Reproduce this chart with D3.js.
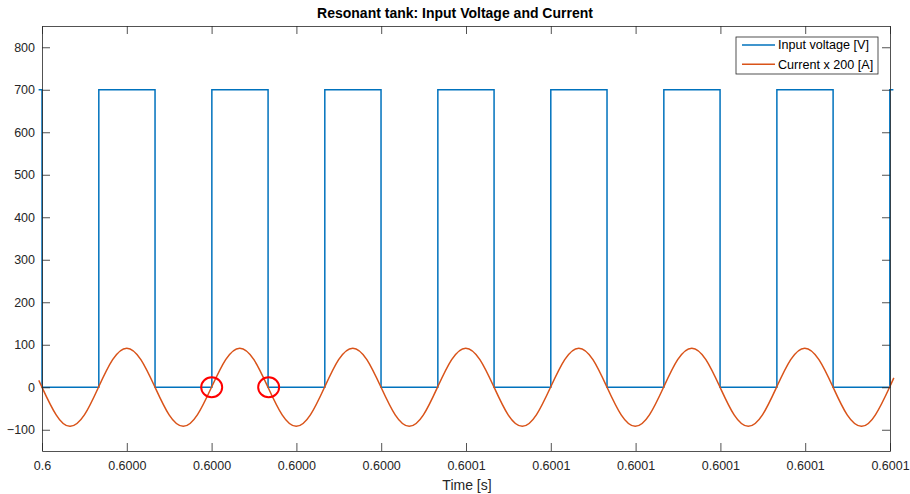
<!DOCTYPE html>
<html>
<head>
<meta charset="utf-8">
<script src="https://cdn.jsdelivr.net/npm/d3@7"></script>
<style>
  html, body { margin: 0; padding: 0; background: #ffffff; }
  svg { display: block; font-family: "Liberation Sans", Arial, Helvetica, sans-serif; }
</style>
</head>
<body>
<svg id="chart" width="910" height="494"></svg>
<script>
// ---- Data (time in microseconds after 0.6 s) ----
const xTicks = [0, 10, 20, 30, 40, 50, 60, 70, 80, 90, 100];
const xTickLabels = ["0.6", "0.6000", "0.6000", "0.6000", "0.6000", "0.6001", "0.6001", "0.6001", "0.6001", "0.6001", "0.6001"];
const yTicks = [-100, 0, 100, 200, 300, 400, 500, 600, 700, 800];

// Input voltage [V]: step levels at switching instants
const voltTime = [-0.40, 0.00, 6.70, 13.33, 20.03, 26.66, 33.35, 39.98, 46.68, 53.31, 60.00, 66.63, 73.33, 79.96, 86.66, 93.29, 99.98, 100.40];
const voltLevel = [700, 0, 700, 0, 700, 0, 700, 0, 700, 0, 700, 0, 700, 0, 700, 0, 700, 700];

// Current x 200 [A]: values read at regular points along the waveform
const curTime = [-0.35, 0.00, 1.67, 3.33, 5.00, 6.66, 8.33, 10.00, 11.66, 13.33, 14.99, 16.66, 18.32, 19.99, 21.66, 23.32, 24.99, 26.65, 28.32, 29.98, 31.65, 33.32, 34.98, 36.65, 38.31, 39.98, 41.65, 43.31, 44.98, 46.64, 48.31, 49.97, 51.64, 53.31, 54.97, 56.64, 58.30, 59.97, 61.64, 63.30, 64.97, 66.63, 68.30, 69.96, 71.63, 73.30, 74.96, 76.63, 78.29, 79.96, 81.62, 83.29, 84.96, 86.62, 88.29, 89.95, 91.62, 93.29, 94.95, 96.62, 98.28, 99.95, 100.45];
const curValue = [15, 0, -65, -92, -65, 0, 65, 92, 65, 0, -65, -92, -65, 0, 65, 92, 65, 0, -65, -92, -65, 0, 65, 92, 65, 0, -65, -92, -65, 0, 65, 92, 65, 0, -65, -92, -65, 0, 65, 92, 65, 0, -65, -92, -65, 0, 65, 92, 65, 0, -65, -92, -65, 0, 65, 92, 65, 0, -65, -92, -65, 0, 22];

const seriesNames = ["Input voltage [V]", "Current x 200 [A]"];
const seriesColors = ["#0072BD", "#D95319"];

// Highlight markers (time µs, value)
const markTime = [20.01, 26.73];
const markValue = [0, 0];

// ---- Layout ----
const svg = d3.select("#chart");
const L = 42, R = 890, T = 26, B = 451;
const x = d3.scaleLinear().domain([0, 100]).range([L, R]);
const y = d3.scaleLinear().domain([-150, 850]).range([B, T]);
const axisColor = "#262626";

// Lines
const voltData = voltTime.map((t, i) => [t, voltLevel[i]]);
const curData = curTime.map((t, i) => [t, curValue[i]]);

svg.append("path")
  .datum(voltData)
  .attr("fill", "none")
  .attr("stroke", seriesColors[0])
  .attr("stroke-width", 1.5)
  .attr("d", d3.line().x(d => x(d[0])).y(d => y(d[1])).curve(d3.curveStepAfter));

svg.append("path")
  .datum(curData)
  .attr("fill", "none")
  .attr("stroke", seriesColors[1])
  .attr("stroke-width", 1.5)
  .attr("d", d3.line().x(d => x(d[0])).y(d => y(d[1])).curve(d3.curveNatural));

// Axes (MATLAB box style, inward ticks)
function styleAxis(g) {
  g.selectAll(".domain").attr("stroke", axisColor).attr("stroke-width", 0.8);
  g.selectAll(".tick line").attr("stroke", axisColor).attr("stroke-width", 0.8);
  g.selectAll(".tick text").attr("fill", axisColor).style("font-size", "12.5px");
}

svg.append("g").attr("transform", `translate(0,${B})`)
  .call(d3.axisBottom(x).tickValues(xTicks).tickFormat((d, i) => xTickLabels[i]).tickSizeInner(-8).tickSizeOuter(0).tickPadding(10))
  .call(styleAxis);
svg.append("g").attr("transform", `translate(0,${T})`)
  .call(d3.axisTop(x).tickValues(xTicks).tickFormat("").tickSizeInner(-8).tickSizeOuter(0))
  .call(styleAxis);
svg.append("g").attr("transform", `translate(${L},0)`)
  .call(d3.axisLeft(y).tickValues(yTicks).tickFormat(d3.format("d")).tickSizeInner(-8).tickSizeOuter(0).tickPadding(7))
  .call(styleAxis);
svg.append("g").attr("transform", `translate(${R},0)`)
  .call(d3.axisRight(y).tickValues(yTicks).tickFormat("").tickSizeInner(-8).tickSizeOuter(0))
  .call(styleAxis);

// Title and label
svg.append("text")
  .attr("x", 455).attr("y", 18)
  .attr("text-anchor", "middle")
  .attr("fill", "#000")
  .style("font-size", "14px").style("font-weight", "bold")
  .text("Resonant tank: Input Voltage and Current");

svg.append("text")
  .attr("x", 467).attr("y", 490)
  .attr("text-anchor", "middle")
  .attr("fill", axisColor)
  .style("font-size", "14px")
  .text("Time [s]");

// Legend
const lg = svg.append("g").attr("transform", "translate(736,37)");
lg.append("rect").attr("width", 142).attr("height", 37)
  .attr("fill", "#fff").attr("stroke", axisColor).attr("stroke-width", 0.8);
seriesNames.forEach((name, i) => {
  const yy = 8 + i * 19.3;
  lg.append("line").attr("x1", 6).attr("x2", 39).attr("y1", yy).attr("y2", yy)
    .attr("stroke", seriesColors[i]).attr("stroke-width", 1.5);
  lg.append("text").attr("x", 42).attr("y", yy + 4.4)
    .attr("fill", "#000").style("font-size", "12.6px").text(name);
});

// Red highlight circles
svg.selectAll("ellipse.mark")
  .data(markTime.map((t, i) => [t, markValue[i]]))
  .join("ellipse")
  .attr("class", "mark")
  .attr("cx", d => x(d[0])).attr("cy", d => y(d[1]))
  .attr("rx", 10.5).attr("ry", 10)
  .attr("fill", "none").attr("stroke", "#ff0000").attr("stroke-width", 2);
</script>
</body>
</html>
